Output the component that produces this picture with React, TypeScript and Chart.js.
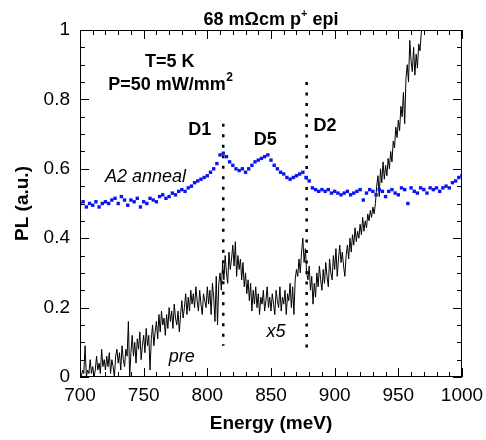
import React, { useEffect, useRef } from "react";
import { Chart, registerables } from "chart.js";
Chart.register(...registerables);

const FONT = "'Liberation Sans', Arial, Helvetica, sans-serif";

// Title pieces: main text, superscript, tail
const titleMain = "68 mΩcm p";
const titleSup = "+";
const titleTail = " epi";

const xLabel = "Energy (meV)";
const yLabel = "PL (a.u.)";

const xMin = 700;
const xMax = 1000;
const yMin = 0;
const yMax = 1;

// Black "pre (x5)" spectrum: energies from 700 meV in 1 meV steps
const preStartE = 700;
const preStepE = 1;
const preValues = [
  0.01, 0.0, 0.02, 0.01, 0.09, 0.0, 0.02, 0.01, 0.05, 0.01,
  0.03, 0.0, 0.02, 0.06, 0.02, 0.04, 0.01, 0.08, 0.03, 0.05,
  0.02, 0.06, 0.03, 0.07, 0.01, 0.05, 0.03, 0.0, 0.06, 0.08,
  0.04, 0.07, 0.02, 0.09, 0.05, 0.03, 0.08, 0.06, 0.16, 0.0,
  0.07, 0.12, 0.06, 0.1, 0.04, 0.11, 0.08, 0.13, 0.05, 0.09,
  0.12, 0.07, 0.14, 0.09, 0.12, 0.02, 0.11, 0.15, 0.09, 0.13,
  0.16, 0.11, 0.18, 0.13, 0.19, 0.15, 0.17, 0.12, 0.18, 0.14,
  0.2, 0.16, 0.19, 0.14, 0.21, 0.17, 0.15, 0.19, 0.13, 0.18,
  0.22, 0.17, 0.2, 0.24, 0.18, 0.23, 0.19, 0.25, 0.21, 0.24,
  0.2, 0.26, 0.22, 0.19, 0.25, 0.21, 0.18, 0.24, 0.22, 0.2,
  0.26, 0.21, 0.25, 0.18, 0.27, 0.23, 0.16, 0.29, 0.15, 0.27,
  0.3, 0.25, 0.33, 0.28, 0.35, 0.3, 0.27, 0.36, 0.31, 0.34,
  0.38, 0.32, 0.39, 0.29, 0.35, 0.31, 0.34, 0.28, 0.33, 0.26,
  0.3, 0.24, 0.28, 0.22, 0.27, 0.19, 0.25, 0.21, 0.26, 0.2,
  0.24, 0.18, 0.23, 0.21, 0.25, 0.19, 0.22, 0.26, 0.2, 0.23,
  0.19, 0.24, 0.21, 0.18, 0.25, 0.22, 0.2, 0.26, 0.19, 0.23,
  0.21, 0.25, 0.18, 0.24, 0.22, 0.27, 0.2, 0.26, 0.18, 0.28,
  0.31, 0.29, 0.34, 0.3, 0.36, 0.4, 0.33, 0.37, 0.3, 0.28,
  0.32, 0.25, 0.29, 0.21, 0.27, 0.23, 0.3, 0.26, 0.32, 0.28,
  0.25, 0.31, 0.27, 0.33, 0.29, 0.26, 0.34, 0.3, 0.28, 0.35,
  0.31, 0.37, 0.29, 0.34, 0.38, 0.33, 0.36, 0.32, 0.29, 0.35,
  0.38, 0.34, 0.4, 0.36, 0.41, 0.38, 0.43, 0.39, 0.42, 0.4,
  0.44, 0.41, 0.46, 0.42, 0.45, 0.43, 0.47, 0.45, 0.48, 0.46,
  0.49, 0.47, 0.5, 0.55, 0.58, 0.52, 0.6, 0.56, 0.62, 0.57,
  0.61, 0.58, 0.63, 0.6, 0.65, 0.62, 0.68, 0.66, 0.72, 0.69,
  0.74, 0.71, 0.78, 0.75, 0.82, 0.73, 0.86, 0.9, 0.85, 0.97,
  0.91, 0.88, 0.95, 0.87, 0.93, 0.89, 0.96, 0.94, 0.99, 1.02,
  1.05, 1.08, 1.12,
];

// Blue "A2 anneal" spectrum: energies from 700 meV in 2.5 meV steps
const annealStartE = 700;
const annealStepE = 2.5;
const annealValues = [
  0.5, 0.505, 0.49, 0.5, 0.495, 0.505, 0.49, 0.5, 0.505, 0.5,
  0.51, 0.515, 0.5, 0.52, 0.51, 0.495, 0.51, 0.505, 0.515, 0.49,
  0.505, 0.5, 0.515, 0.51, 0.505, 0.52, 0.525, 0.515, 0.52, 0.53,
  0.525, 0.535, 0.54, 0.535, 0.545, 0.55, 0.56, 0.565, 0.57, 0.575,
  0.58, 0.59, 0.6, 0.615, 0.64, 0.645, 0.635, 0.62, 0.61, 0.6,
  0.595, 0.6, 0.59, 0.6, 0.61, 0.62, 0.625, 0.63, 0.635, 0.64,
  0.625, 0.61, 0.6, 0.59, 0.585, 0.575, 0.57, 0.575, 0.58, 0.585,
  0.59, 0.575, 0.565, 0.545, 0.54, 0.535, 0.54, 0.535, 0.54, 0.53,
  0.535, 0.53, 0.525, 0.53, 0.535, 0.525, 0.53, 0.535, 0.54, 0.51,
  0.53, 0.54, 0.535, 0.525, 0.54, 0.535, 0.52, 0.535, 0.54, 0.53,
  0.525, 0.545, 0.54, 0.5, 0.545, 0.535, 0.53, 0.545, 0.54, 0.53,
  0.545, 0.54, 0.545, 0.535, 0.545, 0.55, 0.545, 0.56, 0.565, 0.575,
  0.58,
];

// Dotted marker lines (D1, D2): energy and vertical extent
const markerEnergies = [812.5, 878];
const markerBottoms = [0.09, 0.08];
const markerTops = [0.73, 0.85];

// Text annotations in data coordinates
const boldNotes = ["T=5 K", "P=50 mW/mm", "D1", "D5", "D2"];
const boldNoteSup = ["", "2", "", "", ""];
const boldNoteX = [770.5, 771, 794, 845.5, 892.5];
const boldNoteY = [0.908, 0.841, 0.712, 0.684, 0.722];
const italicNotes = ["A2 anneal", "pre", "x5"];
const italicNoteX = [751.5, 780, 854];
const italicNoteY = [0.576, 0.058, 0.13];

const xTickStep = 50;
const xMinorStep = 10;
const yTickStep = 0.2;
const yMinorStep = 0.05;

const framePlugin = {
  id: "frameAndNotes",
  afterDraw(chart: any) {
    const { ctx, chartArea: a, scales } = chart;
    const xs = scales.x;
    const ys = scales.y;
    ctx.save();
    ctx.strokeStyle = "#000";
    ctx.lineWidth = 1;
    ctx.strokeRect(a.left + 0.5, a.top + 0.5, a.right - a.left - 1, a.bottom - a.top - 1);
    ctx.beginPath();
    const nx = Math.round((xMax - xMin) / xMinorStep);
    for (let i = 0; i <= nx; i++) {
      const v = xMin + i * xMinorStep;
      const px = Math.round(xs.getPixelForValue(v)) + 0.5;
      const major = Math.abs(v / xTickStep - Math.round(v / xTickStep)) < 1e-6;
      const len = major ? 9 : 5;
      ctx.moveTo(px, a.bottom);
      ctx.lineTo(px, a.bottom - len);
      ctx.moveTo(px, a.top);
      ctx.lineTo(px, a.top + len);
    }
    const ny = Math.round((yMax - yMin) / yMinorStep);
    for (let i = 0; i <= ny; i++) {
      const v = yMin + i * yMinorStep;
      const py = Math.round(ys.getPixelForValue(v)) + 0.5;
      const major = Math.abs(v / yTickStep - Math.round(v / yTickStep)) < 1e-6;
      const len = major ? 9 : 5;
      ctx.moveTo(a.left, py);
      ctx.lineTo(a.left + len, py);
      ctx.moveTo(a.right, py);
      ctx.lineTo(a.right - len, py);
    }
    ctx.stroke();

    ctx.fillStyle = "#000";
    ctx.textBaseline = "middle";
    boldNotes.forEach((t, i) => {
      ctx.font = `bold 18px ${FONT}`;
      const w = ctx.measureText(t).width;
      const sup = boldNoteSup[i];
      ctx.font = `bold 12px ${FONT}`;
      const ws = sup ? ctx.measureText(sup).width : 0;
      const cx = xs.getPixelForValue(boldNoteX[i]);
      const cy = ys.getPixelForValue(boldNoteY[i]);
      const left = cx - (w + ws) / 2;
      ctx.textAlign = "left";
      ctx.font = `bold 18px ${FONT}`;
      ctx.fillText(t, left, cy);
      if (sup) {
        ctx.font = `bold 12px ${FONT}`;
        ctx.fillText(sup, left + w + 0.5, cy - 7);
      }
    });
    ctx.textAlign = "center";
    ctx.font = `italic 18px ${FONT}`;
    italicNotes.forEach((t, i) => {
      ctx.fillText(t, xs.getPixelForValue(italicNoteX[i]), ys.getPixelForValue(italicNoteY[i]));
    });

    // Title with superscript
    const cx = (a.left + a.right) / 2;
    const base = 25;
    ctx.textAlign = "left";
    ctx.textBaseline = "alphabetic";
    ctx.font = `bold 18px ${FONT}`;
    const w1 = ctx.measureText(titleMain).width;
    const w3 = ctx.measureText(titleTail).width;
    ctx.font = `bold 11px ${FONT}`;
    const w2 = ctx.measureText(titleSup).width;
    const start = cx - (w1 + w2 + w3) / 2;
    ctx.font = `bold 18px ${FONT}`;
    ctx.fillText(titleMain, start, base);
    ctx.font = `bold 11px ${FONT}`;
    ctx.fillText(titleSup, start + w1, base - 8);
    ctx.font = `bold 18px ${FONT}`;
    ctx.fillText(titleTail, start + w1 + w2, base);
    ctx.restore();
  },
};

export default function App() {
  const ref = useRef<HTMLCanvasElement>(null);
  useEffect(() => {
    const canvas = ref.current;
    if (!canvas) return;
    const preData = preValues.map((v, i) => ({ x: preStartE + i * preStepE, y: v }));
    const annealData = annealValues.map((v, i) => ({ x: annealStartE + i * annealStepE, y: v }));
    const markerSets = markerEnergies.map((e, i) => ({
      data: [
        { x: e, y: markerTops[i] },
        { x: e, y: markerBottoms[i] },
      ],
      borderColor: "#000",
      borderWidth: 2.5,
      borderDash: [3, 7.5],
      pointRadius: 0,
      fill: false,
      order: 3,
    }));
    const chart = new Chart(canvas, {
      type: "line",
      data: {
        datasets: [
          {
            data: annealData,
            showLine: false,
            pointStyle: "rect",
            pointRadius: 2.4,
            pointBorderWidth: 0,
            pointBackgroundColor: "#0a14f0",
            pointBorderColor: "#0a14f0",
            order: 1,
          } as any,
          {
            data: preData,
            borderColor: "#000",
            borderWidth: 1,
            pointRadius: 0,
            fill: false,
            tension: 0,
            order: 2,
          },
          ...markerSets,
        ],
      },
      options: {
        responsive: false,
        animation: false,
        events: [],
        layout: { padding: { top: 30, right: 24, left: 0, bottom: 0 } },
        plugins: {
          legend: { display: false },
          tooltip: { enabled: false },
          title: { display: false },
        },
        scales: {
          x: {
            type: "linear",
            min: xMin,
            max: xMax,
            grid: { display: false, drawTicks: false },
            border: { display: false },
            ticks: {
              stepSize: xTickStep,
              autoSkip: false,
              maxRotation: 0,
              color: "#000",
              padding: 7,
              font: { family: FONT, size: 19 },
              callback: (v: any) => String(Math.round(Number(v))),
            },
            title: {
              display: true,
              text: xLabel,
              color: "#000",
              font: { family: FONT, size: 19, weight: "bold" },
              padding: { top: 0, bottom: 5 },
            },
            afterFit: (s: any) => {
              s.height = 63;
              s.paddingLeft = 0;
              s.paddingRight = 0;
            },
          },
          y: {
            type: "linear",
            min: yMin,
            max: yMax,
            grid: { display: false, drawTicks: false },
            border: { display: false },
            ticks: {
              stepSize: yTickStep,
              color: "#000",
              padding: 10,
              font: { family: FONT, size: 19 },
              callback: (v: any) => String(Number(Number(v).toFixed(1))),
            },
            title: {
              display: true,
              text: yLabel,
              color: "#000",
              font: { family: FONT, size: 19, weight: "bold" },
              padding: { top: 11, bottom: 0 },
            },
            afterFit: (s: any) => {
              s.width = 80;
              s.paddingTop = 0;
              s.paddingBottom = 0;
            },
          },
        },
      },
      plugins: [framePlugin],
    });
    return () => chart.destroy();
  }, []);
  return (
    <div style={{ position: "absolute", left: 0, top: 0, width: 486, height: 440, background: "#fff" }}>
      <canvas ref={ref} width={486} height={440} style={{ display: "block", width: 486, height: 440 }} />
    </div>
  );
}
